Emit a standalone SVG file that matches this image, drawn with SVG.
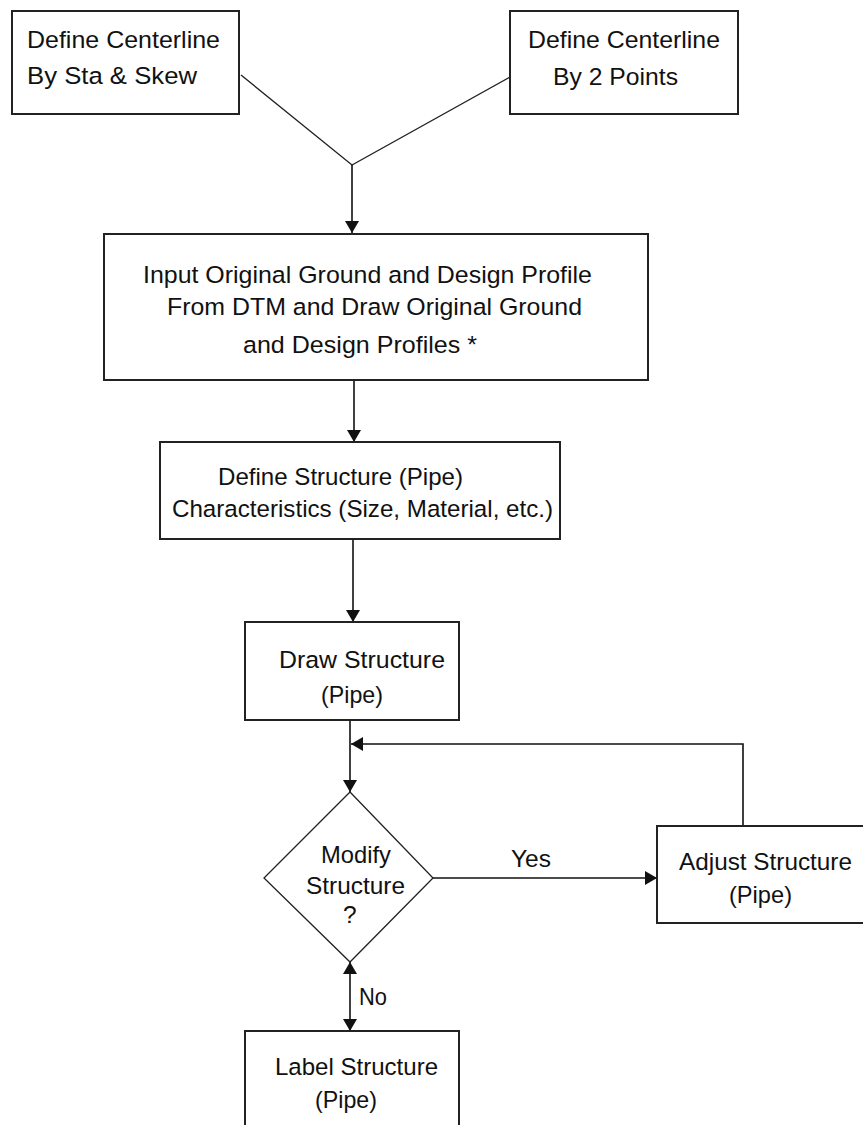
<svg xmlns="http://www.w3.org/2000/svg" width="863" height="1125" viewBox="0 0 863 1125">
<style>
.box{fill:#fff;stroke:#222;stroke-width:2}
.dia{fill:#fff;stroke:#222;stroke-width:1.3}
.ln{fill:none;stroke:#111;stroke-width:1.6}
.thin{fill:none;stroke:#222;stroke-width:1.3}
text{font-family:"Liberation Sans",Arial,sans-serif;font-size:24.5px;fill:#111}
</style>
<defs>
<marker id="arr" viewBox="0 0 12 14" refX="12" refY="7" markerWidth="12" markerHeight="14" markerUnits="userSpaceOnUse" orient="auto-start-reverse">
<path d="M0,0 L12,7 L0,14 Z" fill="#111"/>
</marker>
</defs>
<g id="connectors">
<path class="thin" d="M241,75 L352,165 L510,77"/>
<path class="ln" d="M352,165 V233" marker-end="url(#arr)"/>
<path class="ln" d="M354,380 V442" marker-end="url(#arr)"/>
<path class="ln" d="M353,539 V622" marker-end="url(#arr)"/>
<path class="ln" d="M350,720 V792" marker-end="url(#arr)"/>
<path class="ln" d="M743,826 V744 H351" marker-end="url(#arr)"/>
<path class="ln" d="M433,878 H657" marker-end="url(#arr)"/>
<path class="ln" d="M350,962 V1031" marker-start="url(#arr)" marker-end="url(#arr)"/>
<text x="511" y="867" textLength="40" lengthAdjust="spacingAndGlyphs">Yes</text>
<text x="359" y="1005" textLength="28" lengthAdjust="spacingAndGlyphs">No</text>
</g>
<g id="n1">
<rect class="box" x="12" y="11" width="227" height="103"/>
<text x="27" y="48" textLength="193" lengthAdjust="spacingAndGlyphs">Define Centerline</text>
<text x="27" y="84" textLength="170" lengthAdjust="spacingAndGlyphs">By Sta &amp; Skew</text>
</g>
<g id="n2">
<rect class="box" x="510" y="11" width="228" height="103"/>
<text x="528" y="48" textLength="192" lengthAdjust="spacingAndGlyphs">Define Centerline</text>
<text x="553" y="85" textLength="125" lengthAdjust="spacingAndGlyphs">By 2 Points</text>
</g>
<g id="n3">
<rect class="box" x="104" y="234" width="544" height="146"/>
<text x="143" y="283" textLength="449" lengthAdjust="spacingAndGlyphs">Input Original Ground and Design Profile</text>
<text x="167" y="315" textLength="415" lengthAdjust="spacingAndGlyphs">From DTM and Draw Original Ground</text>
<text x="243" y="353" textLength="234" lengthAdjust="spacingAndGlyphs">and Design Profiles *</text>
</g>
<g id="n4">
<rect class="box" x="160" y="442" width="400" height="97"/>
<text x="218" y="485" textLength="245" lengthAdjust="spacingAndGlyphs">Define Structure (Pipe)</text>
<text x="172" y="517" textLength="381" lengthAdjust="spacingAndGlyphs">Characteristics (Size, Material, etc.)</text>
</g>
<g id="n5">
<rect class="box" x="245" y="622" width="214" height="98"/>
<text x="279" y="668" textLength="166" lengthAdjust="spacingAndGlyphs">Draw Structure</text>
<text x="321" y="703" textLength="62" lengthAdjust="spacingAndGlyphs">(Pipe)</text>
</g>
<g id="n6">
<path class="dia" d="M350,792 L433,878 L350,962 L264,878 Z"/>
<text x="321" y="863" textLength="70" lengthAdjust="spacingAndGlyphs">Modify</text>
<text x="306" y="894" textLength="99" lengthAdjust="spacingAndGlyphs">Structure</text>
<text x="343" y="923">?</text>
</g>
<g id="n7">
<rect class="box" x="657" y="826" width="215" height="97"/>
<text x="679" y="870" textLength="173" lengthAdjust="spacingAndGlyphs">Adjust Structure</text>
<text x="729" y="903" textLength="63" lengthAdjust="spacingAndGlyphs">(Pipe)</text>
</g>
<g id="n8">
<rect class="box" x="245" y="1031" width="214" height="110"/>
<text x="275" y="1075" textLength="163" lengthAdjust="spacingAndGlyphs">Label Structure</text>
<text x="315" y="1108" textLength="62" lengthAdjust="spacingAndGlyphs">(Pipe)</text>
</g>
</svg>
